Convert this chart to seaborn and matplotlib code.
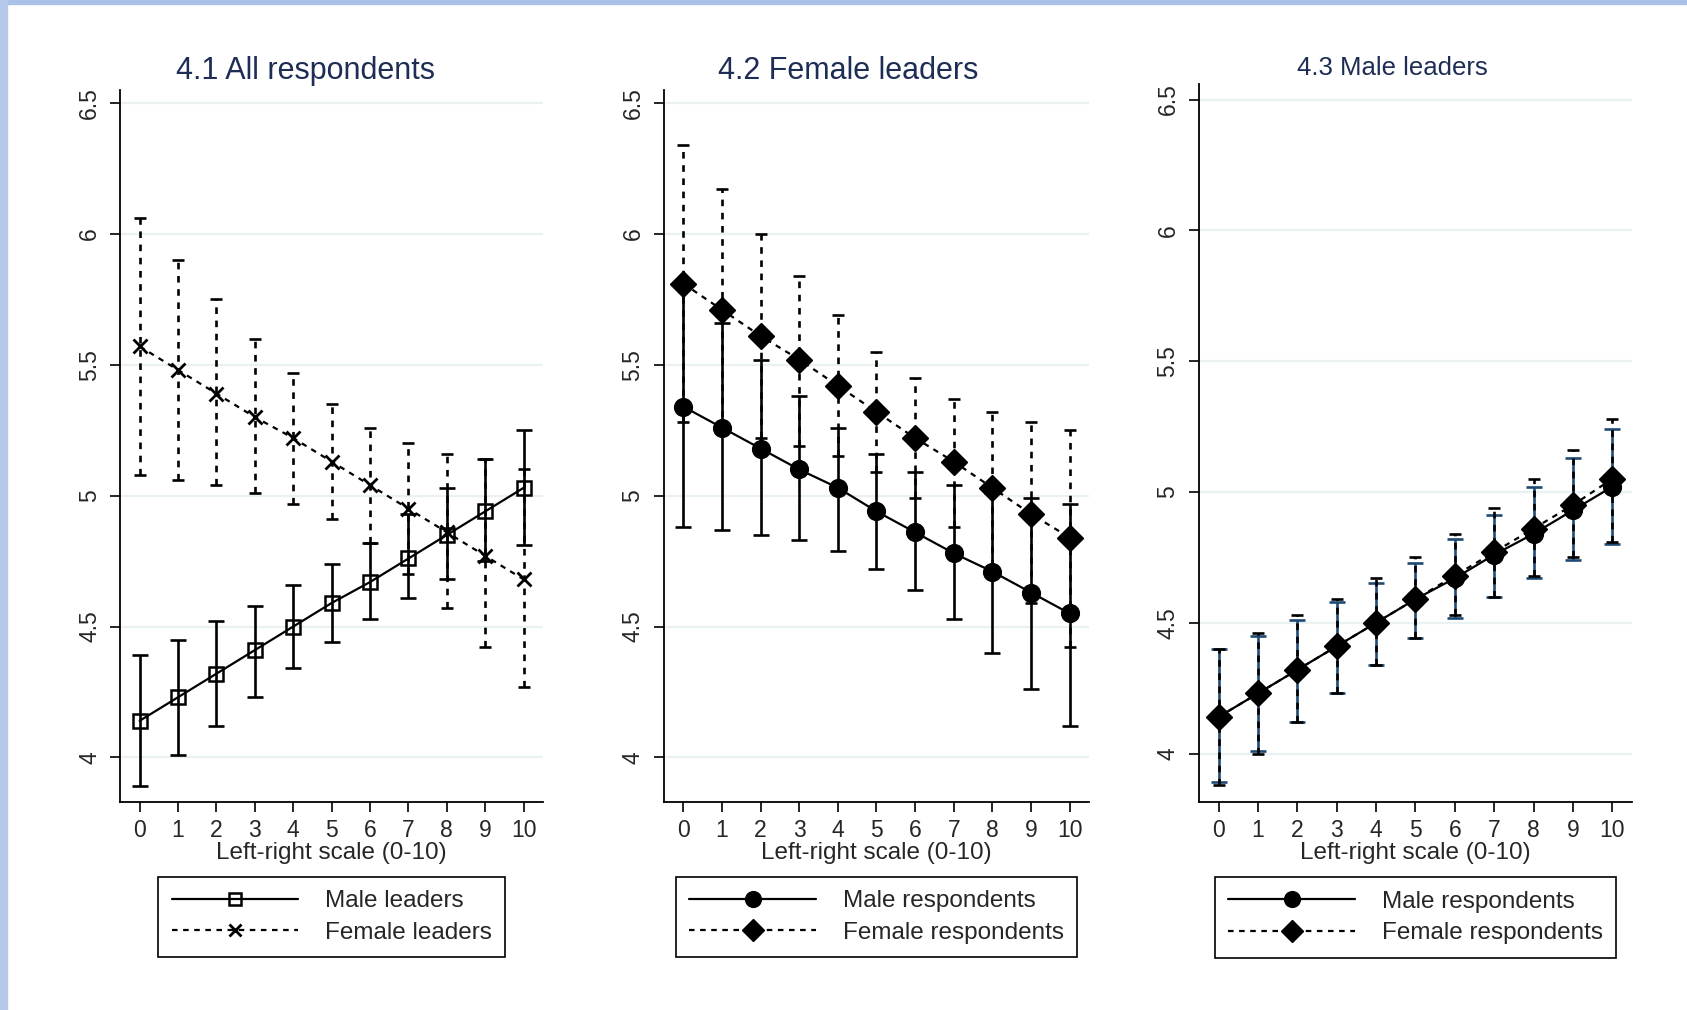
import numpy as np
import pandas as pd
import matplotlib
matplotlib.use('Agg')
import matplotlib.pyplot as plt
from matplotlib.patches import Rectangle
import seaborn as sns

# left-right scale
scale = list(range(11))

# 4.1 All respondents
p1_male_mean = [4.14, 4.23, 4.32, 4.41, 4.50, 4.59, 4.67, 4.76, 4.85, 4.94, 5.03]
p1_male_lo = [3.89, 4.01, 4.12, 4.23, 4.34, 4.44, 4.53, 4.61, 4.68, 4.75, 4.81]
p1_male_hi = [4.39, 4.45, 4.52, 4.58, 4.66, 4.74, 4.82, 4.93, 5.03, 5.14, 5.25]
p1_fem_mean = [5.57, 5.48, 5.39, 5.30, 5.22, 5.13, 5.04, 4.95, 4.86, 4.77, 4.68]
p1_fem_lo = [5.08, 5.06, 5.04, 5.01, 4.97, 4.91, 4.82, 4.70, 4.57, 4.42, 4.27]
p1_fem_hi = [6.06, 5.90, 5.75, 5.60, 5.47, 5.35, 5.26, 5.20, 5.16, 5.14, 5.10]

# 4.2 Female leaders
p2_male_mean = [5.34, 5.26, 5.18, 5.10, 5.03, 4.94, 4.86, 4.78, 4.71, 4.63, 4.55]
p2_male_lo = [4.88, 4.87, 4.85, 4.83, 4.79, 4.72, 4.64, 4.53, 4.40, 4.26, 4.12]
p2_male_hi = [5.80, 5.66, 5.52, 5.38, 5.26, 5.16, 5.09, 5.04, 5.01, 4.99, 4.97]
p2_fem_mean = [5.81, 5.71, 5.61, 5.52, 5.42, 5.32, 5.22, 5.13, 5.03, 4.93, 4.84]
p2_fem_lo = [5.28, 5.25, 5.22, 5.19, 5.15, 5.09, 4.99, 4.88, 4.73, 4.59, 4.42]
p2_fem_hi = [6.34, 6.17, 6.00, 5.84, 5.69, 5.55, 5.45, 5.37, 5.32, 5.28, 5.25]

# 4.3 Male leaders
p3_male_mean = [4.14, 4.23, 4.32, 4.41, 4.50, 4.59, 4.67, 4.76, 4.84, 4.93, 5.02]
p3_male_lo = [3.89, 4.01, 4.12, 4.23, 4.34, 4.44, 4.52, 4.60, 4.67, 4.74, 4.80]
p3_male_hi = [4.40, 4.45, 4.51, 4.58, 4.65, 4.73, 4.82, 4.91, 5.02, 5.13, 5.24]
p3_fem_mean = [4.14, 4.23, 4.32, 4.41, 4.50, 4.59, 4.68, 4.77, 4.86, 4.95, 5.05]
p3_fem_lo = [3.88, 4.00, 4.12, 4.23, 4.34, 4.44, 4.53, 4.60, 4.68, 4.75, 4.81]
p3_fem_hi = [4.40, 4.46, 4.53, 4.59, 4.67, 4.75, 4.84, 4.94, 5.05, 5.16, 5.28]

titles = ['4.1 All respondents', '4.2 Female leaders', '4.3 Male leaders']
y_ticks = [4, 4.5, 5, 5.5, 6, 6.5]
y_ticklabels = ['4', '4.5', '5', '5.5', '6', '6.5']

sns.set_style('ticks')
plt.rcParams['font.family'] = ['Liberation Sans', 'DejaVu Sans']

title_col = '#1e2d55'
grid_col = '#e9f1f3'
navy = '#1f4a73'
dash = (0, (2.5, 2.5))


def make_df(mean, lo, hi):
    return pd.DataFrame({'scale': scale, 'mean': mean, 'lo': lo, 'hi': hi})


def draw_ci(ax, df, dashed=False, color='black', capsize=6):
    m = df['mean'].values
    eb = ax.errorbar(df['scale'], m, yerr=[m - df['lo'].values, df['hi'].values - m],
                     fmt='none', ecolor=color, elinewidth=1.9, capsize=capsize,
                     capthick=1.9, zorder=2)
    if dashed:
        eb[2][0].set_linestyle(dash)
    return eb


def draw_line(ax, df, label, marker, ms, filled=True, dashed=False, mew=1.8):
    sns.lineplot(data=df, x='scale', y='mean', ax=ax, color='black', lw=1.6,
                 marker=marker, markersize=ms,
                 markerfacecolor='black' if filled else 'none',
                 markeredgecolor='black', markeredgewidth=mew,
                 linestyle=dash if dashed else '-', label=label, zorder=4)
    return ax.lines[-1]


fig = plt.figure(figsize=(16.87, 10.10), dpi=100)
fig.patch.set_facecolor('white')
# light blue frame from the slide background
fig.patches.append(Rectangle((0, 1 - 4 / 1010), 1, 4 / 1010, transform=fig.transFigure,
                             color='#a9c0e7', zorder=0))
fig.patches.append(Rectangle((0, 0), 7 / 1687, 1, transform=fig.transFigure,
                             color='#b6c9ea', zorder=0))

ax1 = fig.add_axes([0.0714, 0.206, 0.2504, 0.705])
ax2 = fig.add_axes([0.3936, 0.206, 0.2519, 0.705])
ax3 = fig.add_axes([0.7107, 0.206, 0.2567, 0.711])

# panel 1
d_f = make_df(p1_fem_mean, p1_fem_lo, p1_fem_hi)
d_m = make_df(p1_male_mean, p1_male_lo, p1_male_hi)
draw_ci(ax1, d_f, dashed=True, capsize=4)
draw_ci(ax1, d_m)
h1m = draw_line(ax1, d_m, 'Male leaders', 's', 10, filled=False)
h1f = draw_line(ax1, d_f, 'Female leaders', 'x', 9.5, dashed=True, mew=2)

# panel 2
d_f = make_df(p2_fem_mean, p2_fem_lo, p2_fem_hi)
d_m = make_df(p2_male_mean, p2_male_lo, p2_male_hi)
draw_ci(ax2, d_f, dashed=True, capsize=4)
draw_ci(ax2, d_m)
h2m = draw_line(ax2, d_m, 'Male respondents', 'o', 12)
h2f = draw_line(ax2, d_f, 'Female respondents', 'D', 13, dashed=True, mew=1)

# panel 3
d_f = make_df(p3_fem_mean, p3_fem_lo, p3_fem_hi)
d_m = make_df(p3_male_mean, p3_male_lo, p3_male_hi)
draw_ci(ax3, d_m, color=navy)
draw_ci(ax3, d_f, dashed=True, capsize=4)
h3m = draw_line(ax3, d_m, 'Male respondents', 'o', 12)
h3f = draw_line(ax3, d_f, 'Female respondents', 'D', 13, dashed=True, mew=1)

handles = [(h1m, h1f), (h2m, h2f), (h3m, h3f)]
axes = [ax1, ax2, ax3]
title_pos = [(0.438, 1.026, 22), (0.433, 1.026, 22), (0.446, 1.022, 18.5)]

for ax, hs, title, tp in zip(axes, handles, titles, title_pos):
    ax.set_xlim(-0.5, 10.5)
    if ax is ax3:
        ax.set_ylim(3.815, 6.56)
    else:
        ax.set_ylim(3.83, 6.55)
    ax.set_yticks(y_ticks)
    ax.set_yticklabels(y_ticklabels, rotation=90, va='center', fontsize=16.5)
    ax.set_xticks(scale)
    ax.set_xticklabels([str(s) for s in scale], fontsize=16.5)
    ax.tick_params(axis='both', direction='out', length=7, width=1.2, color='black', pad=7)
    ax.tick_params(axis='x', pad=5)
    ax.grid(axis='y', color=grid_col, lw=1.6, zorder=0)
    ax.grid(axis='x', visible=False)
    sns.despine(ax=ax)
    for side in ['left', 'bottom']:
        ax.spines[side].set_linewidth(1.3)
        ax.spines[side].set_color('black')
    ax.set_xlabel('Left-right scale (0-10)', fontsize=17.5, labelpad=0)
    ax.set_ylabel('')
    ax.text(tp[0], tp[1], title, transform=ax.transAxes, ha='center', va='center',
            fontsize=tp[2], color=title_col)
    leg = ax.legend(list(hs), [h.get_label() for h in hs], loc='upper center',
                    bbox_to_anchor=(0.5, -0.105), fontsize=17.5, handlelength=5.2,
                    handletextpad=1.1, labelspacing=0.4, borderpad=0.55,
                    markerscale=0.88, fancybox=False, framealpha=1,
                    edgecolor='black', borderaxespad=0)
    leg.get_frame().set_linewidth(1.2)

fig.savefig('out.png', dpi=100, facecolor='white')
